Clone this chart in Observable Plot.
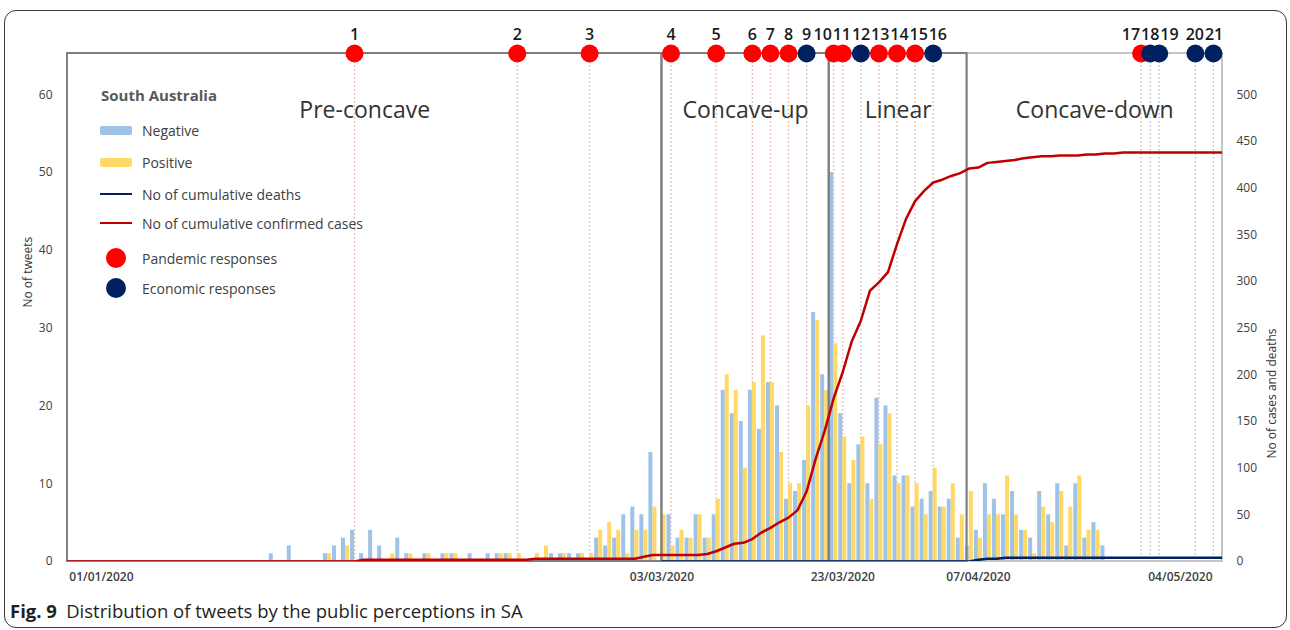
<!DOCTYPE html>
<html>
<head>
<meta charset="utf-8">
<script src="https://cdn.jsdelivr.net/npm/d3@7"></script>
<script src="https://cdn.jsdelivr.net/npm/@observablehq/plot@0.6"></script>
<style>
  body { margin: 0; background: #fff; font-family: "Open Sans", "Noto Sans", sans-serif; }
  #wrap { position: relative; width: 1290px; height: 630px; overflow: hidden; background: #fff; }
  #border { position: absolute; left: 4px; top: 10px; width: 1281px; height: 616px; border: 1px solid #3a3a3a; border-radius: 12px; }
  #chart { position: absolute; left: 0; top: 0; }
  #legend { position: absolute; left: 0; top: 0; width: 0; height: 0; }
  .lg-title { position: absolute; left: 101px; top: 85px; font-size: 15px; font-weight: 700; color: #595959; white-space: nowrap; }
  .lg-row { position: absolute; left: 100px; height: 22px; display: flex; align-items: center; white-space: nowrap; font-size: 14px; color: #404040; }
  .lg-sw { width: 32px; display: flex; align-items: center; justify-content: center; margin-right: 10px; }
  #caption { position: absolute; left: 10px; top: 598px; font-size: 18.5px; color: #231f20; white-space: nowrap; }
</style>
</head>
<body>
<div id="wrap">
  <div id="border"></div>
  <div id="chart"></div>
  <div id="legend"></div>
  <div id="caption"><b>Fig. 9</b>&ensp;Distribution of tweets by the public perceptions in SA</div>
</div>
<script>
// ---------------- data ----------------
const xDomainStart = "2019-12-28T06:00Z";
const xDomainEnd = "2020-05-04T00:00Z";

// daily tweet counts from 20/01/2020
const tweetStart = "2020-01-20";
const negativeTweets = [
  1,0,2,0,0,0,1,2,3,4,
  1,4,2,0,3,1,0,1,0,1,
  1,0,1,0,1,1,1,0,0,0,
  0,1,1,1,1,0,3,2,3,6,
  7,6,14,0,6,3,3,6,3,6,
  22,19,18,22,17,23,20,8,9,13,
  32,24,50,19,10,15,10,21,20,11,
  11,7,8,9,7,8,3,2,4,10,
  8,6,9,4,3,9,6,10,2,10,
  3,5,2
];
const positiveTweets = [
  0,0,0,0,0,0,1,0,2,0,
  0,0,0,1,0,1,0,1,0,1,
  1,0,0,0,0,1,1,1,0,1,
  2,0,1,0,1,1,4,5,4,1,
  4,4,7,6,2,4,3,6,3,8,
  24,22,12,23,29,23,14,10,10,20,
  31,22,28,16,13,16,8,15,19,10,
  11,10,6,12,7,10,6,9,3,6,
  6,11,6,4,1,7,5,9,7,11,
  4,4,0
];

// daily cumulative confirmed cases from 28/12/2019
const casesStart = "2019-12-28";
const cumulativeCases = [
  0,0,0,0,0,0,0,0,0,0,
  0,0,0,0,0,0,0,0,0,0,
  0,0,0,0,0,0,0,0,0,0,
  0,0,0,
  2,2,2,2,2,2,2,2,2,2,2,2,2,2,2,2,2,2,2,
  3,3,3,3,3,3,3,3,3,3,3,3,
  5,
  7,7,7,7,7,7,
  8,11,15,19,20,24,31,36,42,47,
  55,75,110,140,175,203,236,258,290,299,
  310,340,367,386,397,406,409,413,416,421,
  422,427,428,429,430,432,433,434,434,435,
  435,435,436,436,437,437,438,
  438,438,438,438,438,438,438,438,438,438,438
];

// daily cumulative deaths from 03/03/2020
const deathsStart = "2020-03-03";
const cumulativeDeaths = [
  0,0,0,0,0,0,0,0,0,0,
  0,0,0,0,0,0,0,0,0,0,
  0,0,0,0,0,0,0,0,0,0,
  0,0,0,0,0,
  2,3,3,
  4,4,4,4,4,4,4,4,4,4,4,4,4,4,4,4,4,4,4,4,4,4,4,4,4
];

// government responses
const responseIds = [1,2,3,4,5,6,7,8,9,10,11,12,13,14,15,16,17,18,19,20,21];
const responseDates = [
  "2020-01-29","2020-02-16","2020-02-24","2020-03-04","2020-03-09","2020-03-13","2020-03-15",
  "2020-03-17","2020-03-19","2020-03-22","2020-03-23","2020-03-25","2020-03-27","2020-03-29",
  "2020-03-31","2020-04-02","2020-04-25","2020-04-26","2020-04-27","2020-05-01","2020-05-03"
];
const responseTypes = [
  "Pandemic","Pandemic","Pandemic","Pandemic","Pandemic","Pandemic","Pandemic",
  "Pandemic","Economic","Pandemic","Pandemic","Economic","Pandemic","Pandemic",
  "Pandemic","Economic","Pandemic","Economic","Economic","Economic","Economic"
];

// phases of the epidemic curve
const phaseNames = ["Pre-concave", "Concave-up", "Linear", "Concave-down"];
const phaseStarts = [xDomainStart, "2020-03-03", "2020-03-21T12:00Z", "2020-04-05T18:00Z"];
const phaseEnds = ["2020-03-03", "2020-03-21T12:00Z", "2020-04-05T18:00Z", xDomainEnd];

// axis ticks
const tweetTicks = [0, 10, 20, 30, 40, 50, 60];
const caseTicks = [0, 50, 100, 150, 200, 250, 300, 350, 400, 450, 500];
const dateTicks = ["2020-01-01", "2020-03-03", "2020-03-23", "2020-04-07", "2020-05-04"];

const tweetMax = 65.3;            // top of the frame in tweets
const casesPer10Tweets = 500 / 6; // right axis 500 aligns with left axis 60

// ---------------- build ----------------
const DAY = 864e5;
const addDays = (s, i) => new Date(+new Date(s) + i * DAY);
const k = 10 / casesPer10Tweets;

const tweets = negativeTweets.map((v, i) => ({date: addDays(tweetStart, i), negative: v, positive: positiveTweets[i]}));
const cases = cumulativeCases.map((v, i) => ({date: addDays(casesStart, i), value: v}));
const deaths = cumulativeDeaths.map((v, i) => ({date: addDays(deathsStart, i), value: v}));
const events = responseIds.map((id, i) => ({id, date: new Date(responseDates[i]), type: responseTypes[i]}));
const phases = phaseNames.map((name, i) => ({name, start: new Date(phaseStarts[i]), end: new Date(phaseEnds[i])}));
const xDomain = [new Date(xDomainStart), new Date(xDomainEnd)];
const fmt = d3.utcFormat("%d/%m/%Y");

const W = 1290, H = 596, mL = 67, mR = 68, mT = 53, mB = 35;

// spread the response numbers so that they do not overlap
const sx = Plot.scale({x: {type: "utc", domain: xDomain, range: [mL, W - mR]}});
const labelW = e => String(e.id).length * 9.6;
const clusters = [];
events.forEach(e => {
  clusters.push({items: [e], pxs: [sx.apply(e.date)], w: labelW(e)});
  while (clusters.length > 1) {
    const a = clusters[clusters.length - 2], b = clusters[clusters.length - 1];
    if (d3.mean(a.pxs) + a.w / 2 <= d3.mean(b.pxs) - b.w / 2) break;
    clusters.splice(-2, 2, {items: a.items.concat(b.items), pxs: a.pxs.concat(b.pxs), w: a.w + b.w});
  }
});
clusters.forEach(c => {
  let left = d3.mean(c.pxs) - c.w / 2;
  c.items.forEach(e => { const w = labelW(e); e.labelDate = sx.invert(left + w / 2); left += w; });
});

const RED = "#ff0000", NAVY = "#002060";

const chart = Plot.plot({
  width: W, height: H,
  marginLeft: mL, marginRight: mR, marginTop: mT, marginBottom: mB,
  style: {fontFamily: "'Open Sans', 'Noto Sans', sans-serif", fontSize: "12px", color: "#404040", background: "transparent"},
  x: {type: "utc", domain: xDomain},
  y: {domain: [0, tweetMax]},
  marks: [
    Plot.ruleX(events, {x: "date", stroke: d => d.type === "Pandemic" ? "#f2a3a3" : "#b3b8da",
      strokeWidth: 1.3, strokeDasharray: "1.5,2.5"}),
    Plot.rectY(tweets.filter(d => d.negative > 0), {
      x1: d => new Date(+d.date - DAY / 2), x2: "date", y: "negative",
      fill: "#9fc3e7", insetLeft: 0.5}),
    Plot.rectY(tweets.filter(d => d.positive > 0), {
      x1: "date", x2: d => new Date(+d.date + DAY / 2), y: "positive",
      fill: "#ffd966", insetRight: 0.5}),
    Plot.rect(phases.slice().reverse(), {x1: "start", x2: "end", fill: "none",
      stroke: d => d.name === "Concave-down" ? "#c4c4c4" : "#7f7f7f", strokeWidth: 2}),
    Plot.line(deaths, {x: "date", y: d => d.value * k, stroke: NAVY, strokeWidth: 2.5, clip: true}),
    Plot.line(cases, {x: "date", y: d => d.value * k, stroke: "#c00000", strokeWidth: 2.5, clip: true}),
    Plot.text(phases, {x: d => new Date((+d.start + +d.end) / 2), frameAnchor: "top", dy: 48,
      text: "name", fontSize: 23, fill: "#333"}),
    Plot.dot(events, {x: "date", frameAnchor: "top", r: 9, fill: d => d.type === "Pandemic" ? RED : NAVY, stroke: "none"}),
    Plot.text(events, {x: "labelDate", frameAnchor: "top", dy: -25, text: "id", fontSize: 16,
      fontWeight: 600, fill: "#1a1a1a"}),
    Plot.axisY(tweetTicks, {anchor: "left", tickSize: 0, tickPadding: 15, label: null, fontSize: 12}),
    Plot.axisY(caseTicks.map(c => c * k), {anchor: "right", tickSize: 0, tickPadding: 14, label: null,
      fontSize: 12, tickFormat: d => Math.round(d / k)}),
    Plot.axisX(dateTicks.slice(0, 4).map(d => new Date(d)), {tickSize: 0, tickPadding: 11, label: null,
      tickFormat: fmt, fontSize: 12, fontWeight: 600}),
    Plot.axisX([new Date(dateTicks[4])], {tickSize: 0, tickPadding: 11, label: null,
      tickFormat: fmt, fontSize: 12, fontWeight: 600, textAnchor: "end", dx: -10}),
    Plot.text(["No of tweets"], {frameAnchor: "left", rotate: -90, dx: -39, fontSize: 12, fill: "#333"}),
    Plot.text(["No of cases and deaths"], {frameAnchor: "right", rotate: -90, dx: 50, dy: 21, fontSize: 12, fill: "#333"})
  ]
});
document.getElementById("chart").appendChild(chart);

// legend (inside the plot area, top-left)
const legendItems = [
  {label: "Negative", kind: "bar", color: "#9fc3e7"},
  {label: "Positive", kind: "bar", color: "#ffd966"},
  {label: "No of cumulative deaths", kind: "line", color: NAVY},
  {label: "No of cumulative confirmed cases", kind: "line", color: "#c00000"},
  {label: "Pandemic responses", kind: "dot", color: RED},
  {label: "Economic responses", kind: "dot", color: NAVY}
];
const rowCenters = [130, 162, 194, 223, 258, 288];
const lg = document.getElementById("legend");
lg.innerHTML = `<div class="lg-title">South Australia</div>` + legendItems.map((it, i) => {
  let sw;
  if (it.kind === "bar") sw = `<div style="width:32px;height:9px;border-radius:2px;background:${it.color}"></div>`;
  else if (it.kind === "line") sw = `<div style="width:32px;height:2.5px;background:${it.color}"></div>`;
  else sw = `<div style="width:20px;height:20px;border-radius:50%;background:${it.color}"></div>`;
  return `<div class="lg-row" style="top:${rowCenters[i] - 11}px"><div class="lg-sw">${sw}</div><span>${it.label}</span></div>`;
}).join("");
</script>
</body>
</html>
